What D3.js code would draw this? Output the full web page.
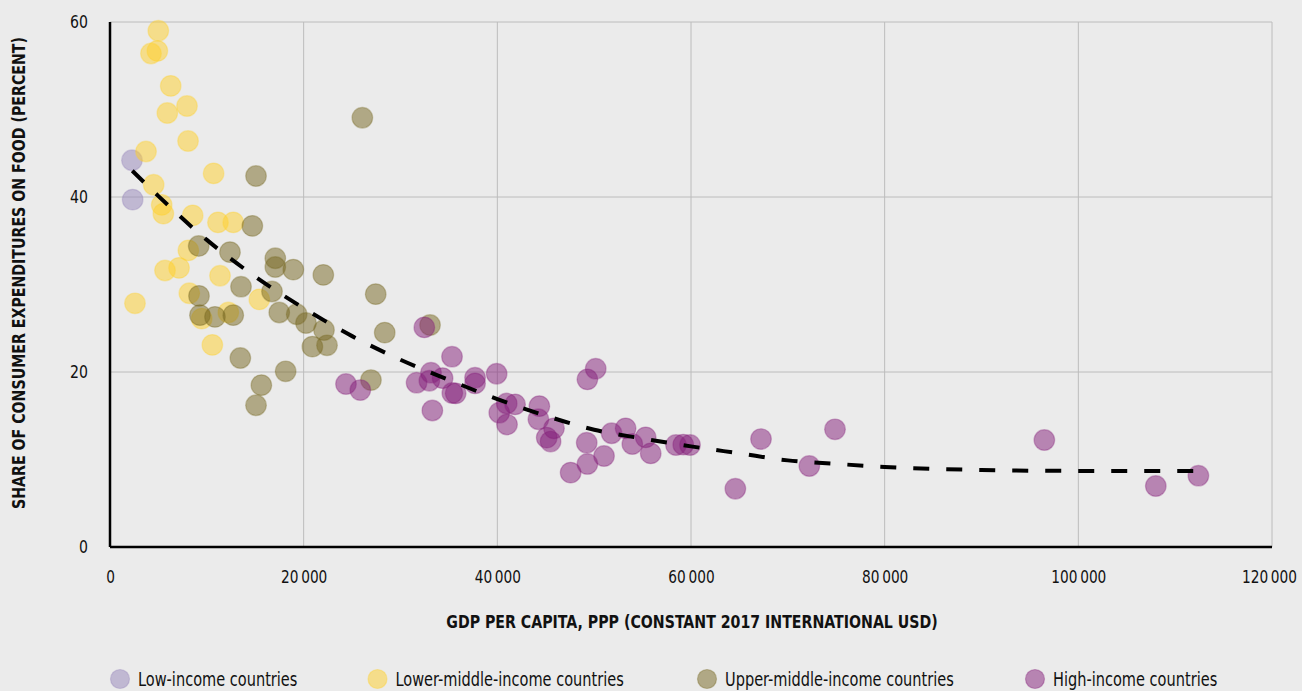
<!DOCTYPE html>
<html>
<head>
<meta charset="utf-8">
<script src="https://cdn.jsdelivr.net/npm/d3@7"></script>
<style>
  html, body { margin: 0; padding: 0; background: #ebebeb; }
  svg { display: block; }
  text { font-family: "DejaVu Sans Condensed", "Liberation Sans Narrow", sans-serif; fill: #111; }
</style>
</head>
<body>
<script>
// ---------------- DATA ----------------
const groupNames = ["Low-income countries", "Lower-middle-income countries", "Upper-middle-income countries", "High-income countries"];
const groupColors = ["#9585b9", "#ffd02a", "#76661f", "#831d79"];

const lowIncome = [[2270, 44.2], [2340, 39.7]];

const lowerMiddle = [
  [4990, 59.0], [4890, 56.7], [4230, 56.4], [6270, 52.7], [7950, 50.4], [5920, 49.6],
  [8060, 46.4], [3720, 45.2], [10700, 42.7], [4510, 41.4], [5340, 39.1], [5510, 38.1],
  [8540, 37.9], [11150, 37.1], [12730, 37.1], [8090, 33.9], [7130, 31.9], [5680, 31.6],
  [11360, 31.0], [8190, 29.0], [15420, 28.3], [2580, 27.85], [9470, 26.1], [12220, 26.8],
  [10570, 23.1]
];

const upperMiddle = [
  [15080, 42.4], [26060, 49.06], [14700, 36.7], [9160, 34.4], [12390, 33.7], [17070, 33.0],
  [17070, 32.0], [18930, 31.7], [22030, 31.1], [13530, 29.75], [16730, 29.2], [27440, 28.9],
  [9190, 28.7], [17480, 26.8], [9290, 26.5], [10840, 26.3], [12730, 26.5], [19280, 26.6],
  [20240, 25.6], [22100, 24.8], [28370, 24.5], [20900, 22.9], [22410, 23.05], [33050, 25.37],
  [13460, 21.6], [18140, 20.08], [26950, 19.08], [15630, 18.5], [15080, 16.2]
];

const highIncome = [
  [32460, 25.1], [35320, 21.75], [24370, 18.63], [25850, 17.94], [31660, 18.78], [33150, 19.92],
  [32980, 19.0], [34350, 19.3], [35350, 17.6], [35700, 17.56], [37700, 19.35], [37700, 18.7],
  [39930, 19.8], [33290, 15.6], [40970, 16.4], [41830, 16.3], [40200, 15.35], [41000, 14.0],
  [44340, 16.1], [44240, 14.6], [45100, 12.5], [45500, 12.05], [45850, 13.56], [49300, 19.16],
  [50160, 20.38], [49230, 11.92], [51020, 10.4], [49300, 9.49], [47570, 8.5], [51800, 13.0],
  [53250, 13.56], [53940, 11.77], [55320, 12.53], [55840, 10.7], [58450, 11.66], [59200, 11.7],
  [59900, 11.66], [64580, 6.66], [67230, 12.34], [72220, 9.26], [74870, 13.45], [96490, 12.23],
  [108000, 6.97], [112400, 8.15]
];

// fitted trend line
const trendX = [2300, 5000, 10000, 15000, 20000, 25000, 30000, 35000, 40000, 45000, 50000, 55000, 60000, 65000, 70000, 75000, 80000, 90000, 100000, 112400];
const trendY = [43.0, 40.1, 35.1, 30.9, 27.3, 24.1, 21.4, 19.1, 16.9, 15.0, 13.4, 12.4, 11.5, 10.7, 9.9, 9.5, 9.15, 8.8, 8.7, 8.7];

const xTicks = [0, 20000, 40000, 60000, 80000, 100000, 120000];
const xTickLabels = ["0", "20\u2009000", "40\u2009000", "60\u2009000", "80\u2009000", "100\u2009000", "120\u2009000"];
const yTicks = [0, 20, 40, 60];
const yTickLabels = ["0", "20", "40", "60"];

const xTitle = "GDP PER CAPITA, PPP (CONSTANT 2017 INTERNATIONAL USD)";
const yTitle = "SHARE OF CONSUMER EXPENDITURES ON FOOD (PERCENT)";

// ---------------- CHART ----------------
const W = 1302, H = 691;
const m = { left: 110, right: 30, top: 22, bottom: 144 };
const squeeze = 0.87;   // horizontal squeeze to mimic the condensed face of the original

const svg = d3.select("body").append("svg").attr("width", W).attr("height", H);
svg.append("rect").attr("width", W).attr("height", H).attr("fill", "#ebebeb");

const x = d3.scaleLinear().domain([0, 120000]).range([m.left, W - m.right]);
const y = d3.scaleLinear().domain([0, 60]).range([H - m.bottom, m.top]);

// grid
const grid = svg.append("g");
grid.selectAll("line.v").data(xTicks.slice(1)).enter().append("line")
  .attr("x1", d => x(d)).attr("x2", d => x(d))
  .attr("y1", y(0)).attr("y2", y(60))
  .attr("stroke", "#bcbcbc").attr("stroke-width", 1);
grid.selectAll("line.h").data(yTicks.slice(1)).enter().append("line")
  .attr("x1", x(0)).attr("x2", x(120000))
  .attr("y1", d => y(d)).attr("y2", d => y(d))
  .attr("stroke", "#bcbcbc").attr("stroke-width", 1);

// axes
const xAxis = d3.axisBottom(x).tickValues(xTicks).tickFormat((d, i) => xTickLabels[i]).tickSize(0).tickPadding(24);
const gx = svg.append("g").attr("transform", `translate(0,${y(0)})`).call(xAxis);
gx.select(".domain").attr("stroke", "#000").attr("stroke-width", 2.5).attr("d", `M${x(0)},0H${x(120000)}`);
gx.selectAll("text").attr("font-size", 17.5).attr("fill", "#111")
  .attr("font-family", '"DejaVu Sans Condensed", "Liberation Sans Narrow", sans-serif')
  .attr("transform", `scale(${squeeze},1)`);
gx.selectAll(".tick").filter(d => d === 120000).select("text").attr("x", -3 / squeeze);

const yAxis = d3.axisLeft(y).tickValues(yTicks).tickFormat((d, i) => yTickLabels[i]).tickSize(0).tickPadding(22);
const gy = svg.append("g").attr("transform", `translate(${x(0)},0)`).call(yAxis);
gy.select(".domain").attr("stroke", "#000").attr("stroke-width", 2.5).attr("d", `M0,${y(60)}V${y(0)}`);
gy.selectAll("text").attr("font-size", 18).attr("fill", "#111")
  .attr("font-family", '"DejaVu Sans Condensed", "Liberation Sans Narrow", sans-serif')
  .attr("x", -22 / squeeze)
  .attr("transform", `scale(${squeeze},1)`);

// points
const groups = [lowIncome, lowerMiddle, upperMiddle, highIncome];
groups.forEach((arr, gi) => {
  svg.append("g").selectAll("circle").data(arr).enter().append("circle")
    .attr("cx", d => x(d[0])).attr("cy", d => y(d[1])).attr("r", 10.3)
    .attr("fill", groupColors[gi]).attr("fill-opacity", 0.5)
    .attr("stroke", groupColors[gi]).attr("stroke-opacity", 0.35).attr("stroke-width", 1.2);
});

// trend line
const trend = trendX.map((v, i) => [v, trendY[i]]);
svg.append("path").datum(trend)
  .attr("d", d3.line().x(d => x(d[0])).y(d => y(d[1])).curve(d3.curveMonotoneX))
  .attr("fill", "none").attr("stroke", "#000").attr("stroke-width", 4)
  .attr("stroke-dasharray", "16,17");

// axis titles
svg.append("text").attr("transform", "translate(692,628) scale(0.875,1)")
  .attr("text-anchor", "middle").attr("font-size", 18).attr("font-weight", "bold").text(xTitle);
svg.append("text").attr("transform", "translate(25,273) rotate(-90) scale(0.875,1)")
  .attr("text-anchor", "middle").attr("font-size", 18).attr("font-weight", "bold").text(yTitle);

// legend
const legend = svg.append("g").attr("transform", "translate(0,679)");
const legendX = [120, 377.5, 707, 1035];
groupNames.forEach((name, i) => {
  const g = legend.append("g").attr("transform", `translate(${legendX[i]},0)`);
  g.append("circle").attr("r", 9.5).attr("fill", groupColors[i]).attr("fill-opacity", 0.5)
    .attr("stroke", groupColors[i]).attr("stroke-opacity", 0.35).attr("stroke-width", 1.2);
  g.append("text").attr("transform", "translate(18,0) scale(0.83,1)").attr("dy", "0.35em")
    .attr("font-size", 19.5).text(name);
});
</script>
</body>
</html>
